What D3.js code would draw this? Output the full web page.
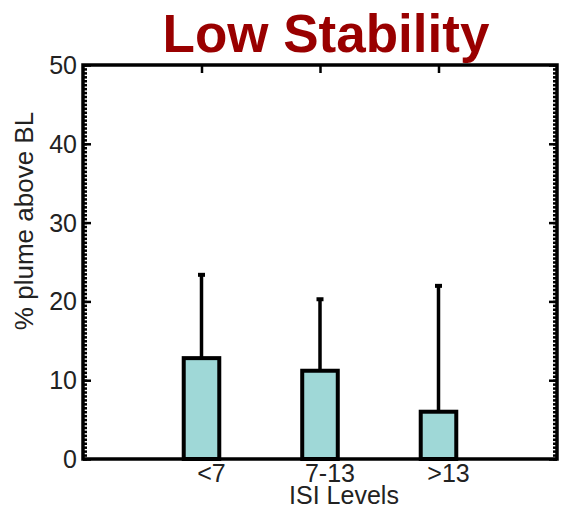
<!DOCTYPE html>
<html>
<head>
<meta charset="utf-8">
<script src="https://cdn.jsdelivr.net/npm/d3@7"></script>
<style>
  html, body { margin: 0; padding: 0; background: #fff; }
  svg { display: block; }
  text { font-family: "Liberation Sans", Arial, sans-serif; fill: #222; }
</style>
</head>
<body>
<svg id="chart" width="563" height="509"></svg>
<script>
// ISI level groups and the mean % of plume above the boundary layer
const categories = ["<7", "7-13", ">13"];
const meanValues = [12.8, 11.2, 6.0];
const upperError = [23.5, 20.4, 22.1];
const yTicks = [0, 10, 20, 30, 40, 50];

const svg = d3.select("#chart");
const frame = { left: 83, right: 557, top: 65, bottom: 459 };

const x = d3.scaleLinear().domain([0, 4]).range([frame.left, frame.right]);
const y = d3.scaleLinear().domain([0, 50]).range([frame.bottom, frame.top]);

const barHalf = 0.15;
const minorTicks = d3.range(0, 50.01, 0.5);

// Bars
svg.append("g").selectAll("rect")
  .data(meanValues)
  .join("rect")
  .attr("x", (d, i) => x(i + 1 - barHalf))
  .attr("y", d => y(d))
  .attr("width", x(1 + barHalf) - x(1 - barHalf))
  .attr("height", d => y(0) - y(d))
  .attr("fill", "#9fd8d7")
  .attr("stroke", "#000")
  .attr("stroke-width", 4);

// Upper error bars
const err = svg.append("g");
err.selectAll("line")
  .data(upperError)
  .join("line")
  .attr("x1", (d, i) => x(i + 1))
  .attr("x2", (d, i) => x(i + 1))
  .attr("y1", (d, i) => y(meanValues[i]))
  .attr("y2", d => y(d))
  .attr("stroke", "#000")
  .attr("stroke-width", 3.5);
err.selectAll("rect")
  .data(upperError)
  .join("rect")
  .attr("x", (d, i) => x(i + 1) - 3.5)
  .attr("y", d => y(d) - 1)
  .attr("width", 7)
  .attr("height", 4)
  .attr("fill", "#000");

// Axes: major and minor ticks pointing inward on the sides and top
const leftAxis = d3.axisRight(y).tickValues(yTicks).tickSize(8).tickFormat("");
const leftMinor = d3.axisRight(y).tickValues(minorTicks).tickSize(4).tickFormat("");
const rightAxis = d3.axisLeft(y).tickValues(yTicks).tickSize(8).tickFormat("");
const rightMinor = d3.axisLeft(y).tickValues(minorTicks).tickSize(4).tickFormat("");
const topAxis = d3.axisBottom(x).tickValues([1, 2, 3]).tickSize(8).tickFormat("");

function styleAxis(g) {
  g.selectAll(".domain").remove();
  g.selectAll(".tick line").attr("stroke", "#000").attr("stroke-width", 2.5);
}

svg.append("g").attr("transform", `translate(${frame.left},0)`).call(leftAxis).call(styleAxis);
svg.append("g").attr("transform", `translate(${frame.left},0)`).call(leftMinor).call(styleAxis);
svg.append("g").attr("transform", `translate(${frame.right},0)`).call(rightAxis).call(styleAxis);
svg.append("g").attr("transform", `translate(${frame.right},0)`).call(rightMinor).call(styleAxis);
svg.append("g").attr("transform", `translate(0,${frame.top})`).call(topAxis).call(styleAxis);

// Frame
svg.append("rect")
  .attr("x", frame.left).attr("y", frame.top)
  .attr("width", frame.right - frame.left)
  .attr("height", frame.bottom - frame.top)
  .attr("fill", "none")
  .attr("stroke", "#000")
  .attr("stroke-width", 3.5);

// Y tick labels
svg.append("g").selectAll("text")
  .data(yTicks)
  .join("text")
  .attr("x", frame.left - 6)
  .attr("y", d => y(d))
  .attr("dy", "0.36em")
  .attr("text-anchor", "end")
  .attr("font-size", 25)
  .text(d => d);

// X tick labels
svg.append("g").selectAll("text")
  .data(categories)
  .join("text")
  .attr("x", (d, i) => x(i + 1) + 10)
  .attr("y", 482)
  .attr("text-anchor", "middle")
  .attr("font-size", 25)
  .text(d => d);

// Axis titles
svg.append("text")
  .attr("x", 344).attr("y", 504)
  .attr("text-anchor", "middle")
  .attr("font-size", 25)
  .text("ISI Levels");

svg.append("text")
  .attr("transform", "translate(33,221) rotate(-90)")
  .attr("text-anchor", "middle")
  .attr("font-size", 26)
  .text("% plume above BL");

// Title
svg.append("text")
  .attr("x", 326).attr("y", 52)
  .attr("text-anchor", "middle")
  .attr("font-size", 53)
  .attr("font-weight", "bold")
  .style("fill", "#990000")
  .text("Low Stability");
</script>
</body>
</html>
